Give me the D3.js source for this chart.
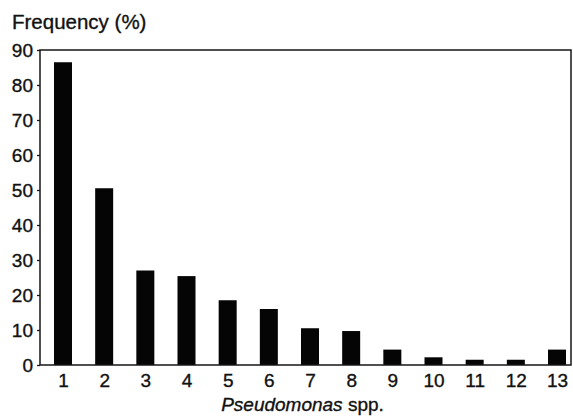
<!DOCTYPE html>
<html>
<head>
<meta charset="utf-8">
<script src="https://cdn.jsdelivr.net/npm/d3@7"></script>
<style>
  html, body { margin: 0; padding: 0; background: #fff; }
  svg { display: block; }
  text { font-family: "Liberation Sans", Arial, sans-serif; fill: #111; }
</style>
</head>
<body>
<svg id="chart" width="573" height="416"></svg>
<script>
// Pseudomonas species and their frequency (%)
const categories = ["1","2","3","4","5","6","7","8","9","10","11","12","13"];
const frequency = [86.5, 50.5, 27, 25.4, 18.5, 16, 10.5, 9.7, 4.4, 2.2, 1.5, 1.5, 4.4];
const yTicks = [0, 10, 20, 30, 40, 50, 60, 70, 80, 90];

const W = 573, H = 416;
const margin = { top: 50, right: 2, bottom: 51, left: 40 };
const plotL = margin.left, plotR = W - margin.right;
const plotT = margin.top, plotB = H - margin.bottom;

const svg = d3.select("#chart");
const ink = "#161616";

const x = d3.scalePoint()
  .domain(categories)
  .range([plotL + 23, plotR - 14]);

const y = d3.scaleLinear()
  .domain([0, 90])
  .range([plotB, plotT]);

const barW = 18;

// bars
svg.append("g")
  .selectAll("rect")
  .data(categories)
  .join("rect")
  .attr("x", (d) => x(d) - barW / 2)
  .attr("y", (d, i) => y(frequency[i]))
  .attr("width", barW)
  .attr("height", (d, i) => y(0) - y(frequency[i]))
  .attr("fill", "#050505");

// frame
svg.append("rect")
  .attr("x", plotL)
  .attr("y", plotT)
  .attr("width", plotR - plotL)
  .attr("height", plotB - plotT)
  .attr("fill", "none")
  .attr("stroke", ink)
  .attr("stroke-width", 1.5);

// slightly heavier glyphs for all labels
const heavy = (sel) => sel.attr("stroke", "#111").attr("stroke-width", 0.35);

// y axis
const yAxis = svg.append("g")
  .attr("transform", `translate(${plotL},0)`)
  .call(d3.axisLeft(y).tickValues(yTicks).tickSize(3).tickPadding(4));
yAxis.select(".domain").remove();
yAxis.selectAll("line").attr("stroke", ink).attr("stroke-width", 1.3);
yAxis.selectAll("text")
  .attr("font-size", 19)
  .attr("font-family", "Liberation Sans, Arial, sans-serif")
  .attr("fill", "#111")
  .call(heavy);

// x axis labels
const xAxis = svg.append("g")
  .attr("transform", `translate(0,${plotB})`)
  .call(d3.axisBottom(x).tickSize(0).tickPadding(9));
xAxis.select(".domain").remove();
xAxis.selectAll("text")
  .attr("font-size", 19)
  .attr("font-family", "Liberation Sans, Arial, sans-serif")
  .attr("fill", "#111")
  .call(heavy);

// y title
svg.append("text")
  .attr("x", 12)
  .attr("y", 29)
  .attr("font-size", 20.5)
  .call(heavy)
  .text("Frequency (%)");

// x title
const xt = svg.append("text")
  .attr("x", (plotL + plotR) / 2 - 3)
  .attr("y", 411)
  .attr("text-anchor", "middle")
  .attr("font-size", 19)
  .call(heavy);
xt.append("tspan").attr("font-style", "italic").text("Pseudomonas");
xt.append("tspan").text(" spp.");
</script>
</body>
</html>
